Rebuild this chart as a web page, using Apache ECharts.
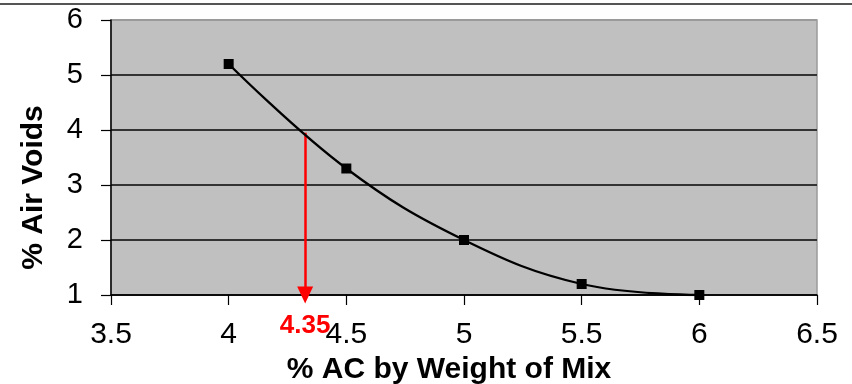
<!DOCTYPE html>
<html>
<head>
<meta charset="utf-8">
<script src="https://cdn.jsdelivr.net/npm/echarts@6/dist/echarts.min.js"></script>
<style>
html,body{margin:0;padding:0;background:#fff;}
#chart{width:852px;height:384px;}
</style>
</head>
<body>
<div id="chart"></div>
<script>
// Data
const acPercent = [4, 4.5, 5, 5.5, 6];
const airVoids = [5.2, 3.3, 2.0, 1.2, 1.0];
const optimumAC = 4.325;          // arrow position on x-axis
const optimumVoids = 3.95;        // arrow start (on curve, ~4% voids)
const optimumLabel = '4.35';
const xTitle = '% AC by Weight of Mix';
const yTitle = '% Air Voids';

const font = '"Liberation Sans", Arial, sans-serif';
const chart = echarts.init(document.getElementById('chart'), null, {renderer: 'canvas'});

chart.setOption({
  animation: false,
  backgroundColor: '#ffffff',
  grid: {
    left: 111, right: 35, top: 20, bottom: 89,
    outerBoundsMode: 'none', containLabel: false,
    show: true, backgroundColor: '#C0C0C0', borderColor: '#9a9a9a', borderWidth: 1.5
  },
  graphic: [{
    type: 'line', shape: {x1: 0, y1: 4, x2: 852, y2: 4},
    style: {stroke: '#555', lineWidth: 2}, silent: true
  }],
  xAxis: {
    type: 'value', min: 3.5, max: 6.5, interval: 0.5,
    name: xTitle, nameLocation: 'middle', nameGap: 54,
    nameTextStyle: {fontFamily: font, fontSize: 30, fontWeight: 'bold', color: '#000', padding: [0, 30, 0, 0]},
    axisLine: {show: true, onZero: false, lineStyle: {color: '#000', width: 1.5}},
    axisTick: {show: true, inside: false, length: 10, lineStyle: {color: '#000', width: 1.2}},
    axisLabel: {fontFamily: font, fontSize: 30, color: '#000', margin: 25},
    splitLine: {show: false}
  },
  yAxis: {
    type: 'value', min: 1, max: 6, interval: 1,
    name: yTitle, nameLocation: 'middle', nameGap: 62, nameRotate: 90,
    nameTextStyle: {fontFamily: font, fontSize: 30, fontWeight: 'bold', color: '#000', padding: [0, 60, 0, 0]},
    axisLine: {show: true, onZero: false, lineStyle: {color: '#000', width: 1.5}},
    axisTick: {show: true, inside: false, length: 10, lineStyle: {color: '#000', width: 1.2}},
    axisLabel: {fontFamily: font, fontSize: 29, color: '#000', margin: 28},
    splitLine: {show: true, lineStyle: {color: ['#333', '#333', '#333', '#333', '#333', '#9a9a9a'], width: 2}}
  },
  series: [{
    type: 'line',
    data: acPercent.map((x, i) => [x, airVoids[i]]),
    smooth: 0.4,
    symbol: 'rect', symbolSize: 10,
    itemStyle: {color: '#000'},
    lineStyle: {color: '#000', width: 2.3},
    z: 5,
    markLine: {
      silent: true,
      symbol: ['none', 'triangle'],
      symbolSize: [16, 17],
      symbolRotate: 180,
      lineStyle: {color: '#ff0000', width: 2.5, type: 'solid'},
      label: {
        show: true, position: 'end', formatter: optimumLabel,
        color: '#ff0000', fontFamily: font, fontSize: 26, fontWeight: 'bold', distance: 18
      },
      data: [[{coord: [optimumAC, optimumVoids]}, {coord: [optimumAC, 1]}]]
    }
  }]
});
</script>
</body>
</html>
